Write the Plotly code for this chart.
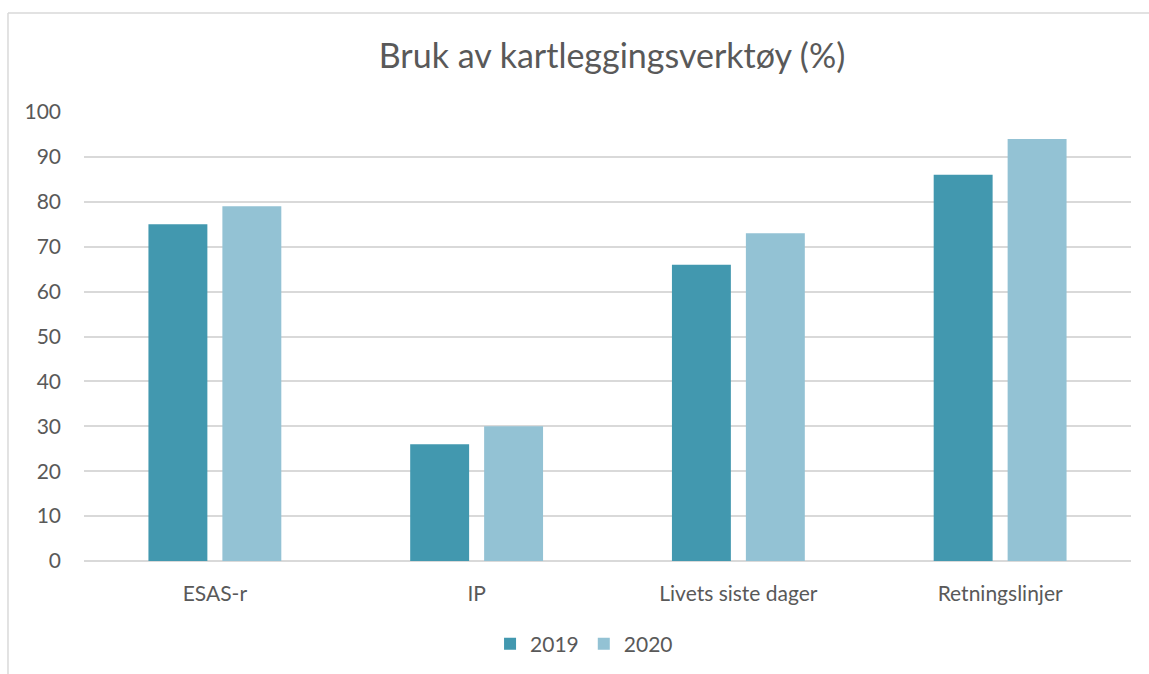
import plotly.graph_objects as go

categories = ["ESAS-r", "IP", "Livets siste dager", "Retningslinjer"]
series_2019 = [75, 26, 66, 86]
series_2020 = [79, 30, 73, 94]
y_ticks = [0, 10, 20, 30, 40, 50, 60, 70, 80, 90, 100]

FONT = "Lato, Open Sans, sans-serif"
GREY = "#595959"

fig = go.Figure()
fig.add_trace(go.Bar(name="2019", x=categories, y=series_2019,
                     marker=dict(color="#4298AF", line=dict(width=0))))
fig.add_trace(go.Bar(name="2020", x=categories, y=series_2020,
                     marker=dict(color="#93C2D4", line=dict(width=0))))

fig.update_layout(
    width=1149, height=674,
    margin=dict(l=84, r=18, t=112, b=113, autoexpand=False),
    paper_bgcolor="white", plot_bgcolor="white",
    barmode="group", bargap=0.435, bargroupgap=0.203,
    title=dict(text="Bruk av kartleggingsverktøy (%)", x=612 / 1149, xanchor="center",
               y=1 - 56 / 674, yanchor="middle",
               font=dict(family=FONT, size=34, color=GREY)),
    font=dict(family=FONT, size=21, color=GREY),
    showlegend=True,
    legend=dict(orientation="h", x=0.4776, xanchor="center", y=-0.185, yanchor="middle",
                font=dict(family=FONT, size=21, color=GREY), itemwidth=30,
                traceorder="normal"),
    xaxis=dict(showgrid=False, showline=False, ticks="", ticklabelstandoff=18,
               tickfont=dict(size=21, color=GREY)),
    yaxis=dict(range=[0, 100], tickvals=y_ticks, showgrid=True, gridcolor="#D9D9D9",
               gridwidth=1.5, zeroline=True, zerolinecolor="#D9D9D9", zerolinewidth=1.5,
               showline=False, ticks="", ticklabelstandoff=22,
               tickfont=dict(size=21, color=GREY)),
)

# outer chart frame (top and left edges)
fig.add_shape(type="line", xref="paper", yref="paper", x0=-0.0726, x1=1.03, y0=1.2205, y1=1.2205,
              line=dict(color="#D9D9D9", width=1.5))
fig.add_shape(type="line", xref="paper", yref="paper", x0=-0.0726, x1=-0.0726, y0=-0.26, y1=1.2205,
              line=dict(color="#D9D9D9", width=1.5))

fig.write_html("out.html", config={"displayModeBar": False},
               post_script="document.body.style.margin='0';document.body.style.overflow='hidden';")
